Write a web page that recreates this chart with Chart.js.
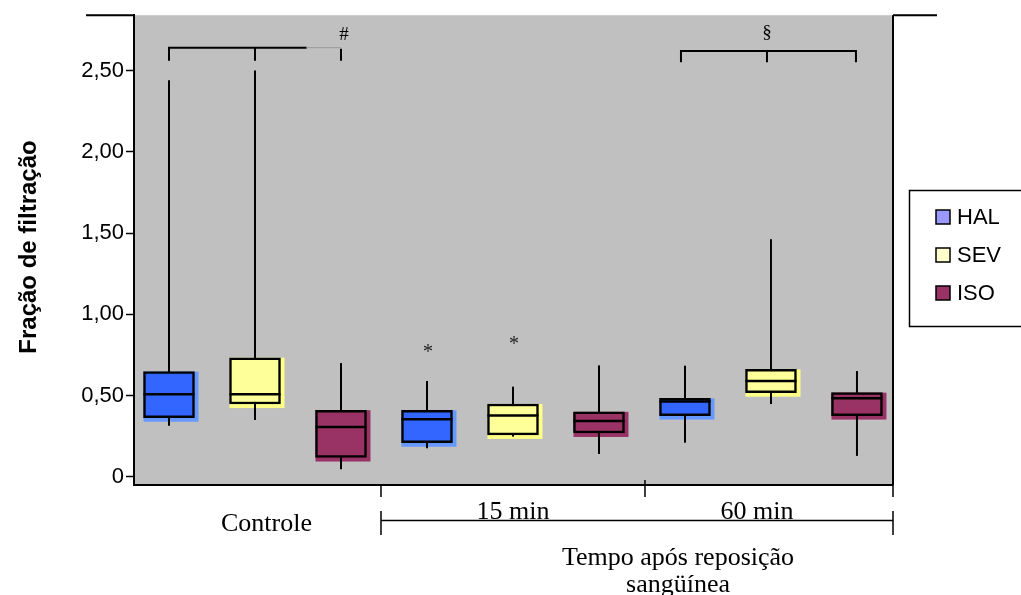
<!DOCTYPE html>
<html>
<head>
<meta charset="utf-8">
<script src="https://cdn.jsdelivr.net/npm/chart.js@4"></script>
<style>
  html, body { margin: 0; padding: 0; background: #fff; }
</style>
</head>
<body>
<canvas id="boxChart" width="1021" height="595"></canvas>
<script>
// Data (box plot per group / anesthetic)
const groups = ["Controle", "15 min", "60 min"];
const drugs = ["HAL", "SEV", "ISO"];

const halMin = [0.315, 0.176, 0.21];
const halQ1 = [0.364, 0.21, 0.377];
const halMed = [0.508, 0.354, 0.463];
const halQ3 = [0.647, 0.41, 0.483];
const halMax = [2.44, 0.59, 0.684];

const sevMin = [0.35, 0.248, 0.448];
const sevQ1 = [0.448, 0.258, 0.518];
const sevMed = [0.508, 0.377, 0.59];
const sevQ3 = [0.733, 0.448, 0.661];
const sevMax = [2.5, 0.555, 1.462];

const isoMin = [0.047, 0.141, 0.129];
const isoQ1 = [0.119, 0.27, 0.377];
const isoMed = [0.307, 0.344, 0.483];
const isoQ3 = [0.41, 0.4, 0.518];
const isoMax = [0.7, 0.686, 0.651];

const yTicks = [0, 0.5, 1, 1.5, 2, 2.5];

// annotations: significance marks (x = box index, y = value)
const asterisks = [{ x: 3, y: 0.79 }, { x: 4, y: 0.84 }];

const mins = [halMin, sevMin, isoMin];
const q1s = [halQ1, sevQ1, isoQ1];
const meds = [halMed, sevMed, isoMed];
const q3s = [halQ3, sevQ3, isoQ3];
const maxs = [halMax, sevMax, isoMax];

const boxColors = ["#3366ff", "#ffff99", "#993366"];
const shadowColors = ["#6699ff", "#ffff88", "#993366"];
const legendColors = ["#9999ff", "#ffffcc", "#993366"];

const ctx = document.getElementById("boxChart").getContext("2d");

const datasets = drugs.map((name, d) => ({
  label: name,
  data: groups.map((g, i) => ({ x: i * 3 + d, y: [q1s[d][i], q3s[d][i]] })),
  backgroundColor: boxColors[d],
  borderColor: "#000",
  borderWidth: 2.5,
  borderSkipped: false,
  barThickness: 51,
  grouped: false,
}));

// gray plot area + box shadows + whiskers, drawn under the boxes
const boxPlugin = {
  id: "boxParts",
  beforeDraw(chart) {
    const { ctx, chartArea: a } = chart;
    ctx.save();
    ctx.fillStyle = "#c0c0c0";
    ctx.fillRect(a.left, a.top, a.right - a.left, a.bottom - a.top);
    ctx.restore();
  },
  beforeDatasetsDraw(chart) {
    const { ctx } = chart;
    const y = chart.scales.y;
    ctx.save();
    chart.data.datasets.forEach((ds, d) => {
      chart.getDatasetMeta(d).data.forEach((bar, i) => {
        const p = bar.getProps(["x", "y", "base", "width"], true);
        const top = Math.min(p.y, p.base);
        const h = Math.abs(p.base - p.y);
        ctx.fillStyle = shadowColors[d];
        ctx.fillRect(p.x - p.width / 2, top, p.width + 4, h + 4);
        ctx.strokeStyle = "#000";
        ctx.lineWidth = 2;
        ctx.beginPath();
        ctx.moveTo(p.x, y.getPixelForValue(mins[d][i]));
        ctx.lineTo(p.x, y.getPixelForValue(maxs[d][i]));
        ctx.stroke();
      });
    });
    ctx.restore();
  },
  afterDatasetsDraw(chart) {
    const { ctx } = chart;
    const y = chart.scales.y;
    ctx.save();
    ctx.strokeStyle = "#000";
    ctx.lineWidth = 2.5;
    chart.data.datasets.forEach((ds, d) => {
      chart.getDatasetMeta(d).data.forEach((bar, i) => {
        const p = bar.getProps(["x", "width"], true);
        const my = y.getPixelForValue(meds[d][i]);
        ctx.beginPath();
        ctx.moveTo(p.x - p.width / 2, my);
        ctx.lineTo(p.x + p.width / 2, my);
        ctx.stroke();
      });
    });
    ctx.restore();
  },
};

// frame, brackets, group labels, axis title, legend
const decorPlugin = {
  id: "decor",
  afterDraw(chart) {
    const { ctx, chartArea: a } = chart;
    const x = chart.scales.x;
    const y = chart.scales.y;
    ctx.save();
    ctx.strokeStyle = "#000";
    ctx.fillStyle = "#000";
    ctx.lineWidth = 2;

    // frame pieces
    ctx.beginPath();
    ctx.moveTo(86, a.top); ctx.lineTo(a.left, a.top);
    ctx.moveTo(a.right, a.top); ctx.lineTo(937, a.top);
    ctx.moveTo(a.right, a.top); ctx.lineTo(a.right, a.bottom);
    ctx.moveTo(a.left, a.bottom); ctx.lineTo(a.right, a.bottom);
    ctx.stroke();

    // bracket over the control group
    const by1 = y.getPixelForValue(2.64);
    const bt1 = y.getPixelForValue(2.56);
    const c0 = x.getPixelForValue(0), c1 = x.getPixelForValue(1), c2 = x.getPixelForValue(2);
    const cMid = c1 + (c2 - c1) * 0.6;
    ctx.beginPath();
    ctx.moveTo(c0, bt1); ctx.lineTo(c0, by1); ctx.lineTo(cMid, by1);
    ctx.moveTo(c1, by1); ctx.lineTo(c1, bt1);
    ctx.moveTo(c2, by1 + 1); ctx.lineTo(c2, bt1);
    ctx.stroke();
    ctx.save();
    ctx.strokeStyle = "#999";
    ctx.lineWidth = 1;
    ctx.beginPath();
    ctx.moveTo(cMid, by1); ctx.lineTo(c2, by1);
    ctx.stroke();
    ctx.restore();

    // bracket over 60 min
    const by2 = y.getPixelForValue(2.62);
    const bt2 = y.getPixelForValue(2.55);
    const s0 = x.getPixelForValue(6) - 4, s1 = x.getPixelForValue(7) - 4, s2 = x.getPixelForValue(8) - 1;
    ctx.beginPath();
    ctx.moveTo(s0, bt2); ctx.lineTo(s0, by2); ctx.lineTo(s2, by2); ctx.lineTo(s2, bt2);
    ctx.moveTo(s1, by2); ctx.lineTo(s1, bt2);
    ctx.stroke();

    ctx.font = "19px 'Liberation Serif'";
    ctx.textAlign = "center";
    ctx.textBaseline = "alphabetic";
    ctx.fillText("#", c2 + 3, 40);
    ctx.fillText("§", s1, 38);

    ctx.fillStyle = "#222";
    ctx.font = "20px 'Liberation Serif'";
    ctx.textBaseline = "middle";
    asterisks.forEach((s) => {
      ctx.fillText("*", x.getPixelForValue(s.x) + 1, y.getPixelForValue(s.y) + 4);
    });
    ctx.fillStyle = "#000";

    // group structure below the axis
    const b1 = x.getPixelForValue(2.5) - 3;
    const b2 = x.getPixelForValue(5.5) + 3;
    ctx.lineWidth = 1.5;
    ctx.beginPath();
    ctx.moveTo(b1, a.bottom); ctx.lineTo(b1, a.bottom + 12);
    ctx.moveTo(b2, a.bottom - 5); ctx.lineTo(b2, a.bottom + 12);
    ctx.moveTo(a.right, a.bottom); ctx.lineTo(a.right, a.bottom + 12);
    ctx.moveTo(b1, 511); ctx.lineTo(b1, 535);
    ctx.moveTo(a.right, 511); ctx.lineTo(a.right, 535);
    ctx.moveTo(b1, 520.5); ctx.lineTo(a.right, 520.5);
    ctx.stroke();

    ctx.font = "26px 'Liberation Serif'";
    ctx.textBaseline = "alphabetic";
    ctx.fillText(groups[0], (a.left + b1) / 2 + 9, 531);
    ctx.fillText(groups[1], (b1 + b2) / 2, 519);
    ctx.fillText(groups[2], (b2 + a.right) / 2 - 12, 519);
    ctx.fillText("Tempo após reposição", 678, 565);
    ctx.fillText("sangüínea", 678, 592);

    // y axis title
    ctx.save();
    ctx.translate(29, 247);
    ctx.rotate(-Math.PI / 2);
    ctx.font = "bold 24px 'Liberation Sans'";
    ctx.textAlign = "center";
    ctx.textBaseline = "middle";
    ctx.fillText("Fração de filtração", 0, 0);
    ctx.restore();

    // legend
    ctx.lineWidth = 1.5;
    ctx.strokeRect(909.5, 190.5, 130, 136);
    ctx.font = "22px 'Liberation Sans'";
    ctx.textAlign = "left";
    ctx.textBaseline = "middle";
    drugs.forEach((name, d) => {
      const ly = 217 + d * 38;
      ctx.fillStyle = legendColors[d];
      ctx.fillRect(936, ly - 7, 14, 14);
      ctx.strokeStyle = "#000";
      ctx.strokeRect(936, ly - 7, 14, 14);
      ctx.fillStyle = "#000";
      ctx.fillText(name, 957, ly + 1);
    });
    ctx.restore();
  },
};

new Chart(ctx, {
  type: "bar",
  data: { datasets },
  options: {
    responsive: false,
    animation: false,
    layout: { padding: { top: 14, right: 128, bottom: 110, left: 0 } },
    plugins: {
      legend: { display: false },
      tooltip: { enabled: false },
      title: { display: false },
    },
    scales: {
      x: {
        type: "linear",
        display: false,
        offset: false,
        min: -0.407,
        max: 8.419,
      },
      y: {
        min: -0.05,
        max: 2.84,
        afterBuildTicks: (s) => {
          s.ticks = yTicks.map((v) => ({ value: v }));
        },
        afterFit: (s) => {
          s.width = 134;
        },
        ticks: {
          color: "#000",
          padding: 2,
          font: { family: "'Liberation Sans'", size: 22 },
          callback: (v) => (v === 0 ? "0" : v.toFixed(2).replace(".", ",")),
        },
        grid: {
          drawOnChartArea: false,
          color: "#000",
          tickLength: 8,
          tickWidth: 1.5,
        },
        border: { color: "#000", width: 2 },
      },
    },
  },
  plugins: [boxPlugin, decorPlugin],
});
</script>
</body>
</html>
